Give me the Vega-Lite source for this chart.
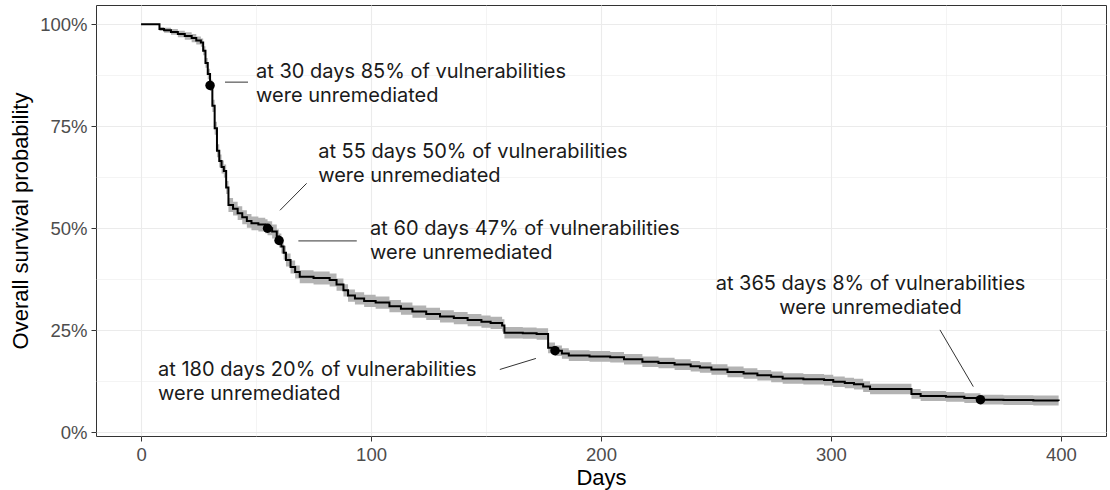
{
  "$schema": "https://vega.github.io/schema/vega-lite/v6.json",
  "width": 1010,
  "height": 431,
  "autosize": {"type": "none"},
  "padding": {"left": 96, "top": 5, "right": 4, "bottom": 54},
  "background": "white",
  "config": {
    "view": {"stroke": "#333333", "strokeWidth": 1},
    "axis": {
      "domain": false,
      "gridColor": "#ebebeb",
      "labelFont": "Liberation Sans",
      "labelFontSize": 18.5,
      "labelColor": "#4d4d4d",
      "titleFont": "Liberation Sans",
      "titleFontSize": 22,
      "titleFontWeight": "normal",
      "titleColor": "#000000",
      "tickSize": 5,
      "tickWidth": 1
    }
  },
  "datasets": {
    "km": [
      {"day": 0, "surv": 1.0, "lower": 1.0, "upper": 1.0},
      {"day": 8, "surv": 0.988, "lower": 0.983, "upper": 0.993},
      {"day": 10, "surv": 0.985, "lower": 0.979, "upper": 0.991},
      {"day": 13, "surv": 0.981, "lower": 0.974, "upper": 0.988},
      {"day": 16, "surv": 0.976, "lower": 0.968, "upper": 0.984},
      {"day": 19, "surv": 0.971, "lower": 0.962, "upper": 0.980},
      {"day": 22, "surv": 0.966, "lower": 0.956, "upper": 0.976},
      {"day": 24, "surv": 0.960, "lower": 0.950, "upper": 0.970},
      {"day": 26, "surv": 0.955, "lower": 0.945, "upper": 0.965},
      {"day": 27, "surv": 0.935, "lower": 0.924, "upper": 0.946},
      {"day": 28, "surv": 0.905, "lower": 0.893, "upper": 0.917},
      {"day": 29, "surv": 0.878, "lower": 0.865, "upper": 0.891},
      {"day": 30, "surv": 0.850, "lower": 0.836, "upper": 0.864},
      {"day": 31, "surv": 0.800, "lower": 0.785, "upper": 0.815},
      {"day": 32, "surv": 0.745, "lower": 0.729, "upper": 0.761},
      {"day": 33, "surv": 0.690, "lower": 0.674, "upper": 0.706},
      {"day": 34, "surv": 0.665, "lower": 0.649, "upper": 0.681},
      {"day": 35, "surv": 0.650, "lower": 0.634, "upper": 0.666},
      {"day": 36, "surv": 0.640, "lower": 0.624, "upper": 0.656},
      {"day": 37, "surv": 0.600, "lower": 0.584, "upper": 0.616},
      {"day": 38, "surv": 0.557, "lower": 0.540, "upper": 0.574},
      {"day": 40, "surv": 0.548, "lower": 0.531, "upper": 0.565},
      {"day": 42, "surv": 0.537, "lower": 0.520, "upper": 0.554},
      {"day": 44, "surv": 0.527, "lower": 0.510, "upper": 0.544},
      {"day": 46, "surv": 0.518, "lower": 0.501, "upper": 0.535},
      {"day": 48, "surv": 0.512, "lower": 0.495, "upper": 0.529},
      {"day": 51, "surv": 0.509, "lower": 0.492, "upper": 0.526},
      {"day": 54, "surv": 0.505, "lower": 0.488, "upper": 0.522},
      {"day": 55, "surv": 0.500, "lower": 0.483, "upper": 0.517},
      {"day": 57, "surv": 0.492, "lower": 0.475, "upper": 0.509},
      {"day": 59, "surv": 0.480, "lower": 0.463, "upper": 0.497},
      {"day": 60, "surv": 0.470, "lower": 0.453, "upper": 0.487},
      {"day": 61, "surv": 0.455, "lower": 0.438, "upper": 0.472},
      {"day": 62, "surv": 0.440, "lower": 0.423, "upper": 0.457},
      {"day": 63, "surv": 0.422, "lower": 0.406, "upper": 0.438},
      {"day": 65, "surv": 0.405, "lower": 0.389, "upper": 0.421},
      {"day": 67, "surv": 0.393, "lower": 0.377, "upper": 0.409},
      {"day": 69, "surv": 0.381, "lower": 0.365, "upper": 0.397},
      {"day": 75, "surv": 0.378, "lower": 0.362, "upper": 0.394},
      {"day": 82, "surv": 0.373, "lower": 0.357, "upper": 0.389},
      {"day": 85, "surv": 0.362, "lower": 0.347, "upper": 0.377},
      {"day": 88, "surv": 0.348, "lower": 0.333, "upper": 0.363},
      {"day": 90, "surv": 0.335, "lower": 0.320, "upper": 0.350},
      {"day": 93, "surv": 0.328, "lower": 0.313, "upper": 0.343},
      {"day": 97, "surv": 0.322, "lower": 0.307, "upper": 0.337},
      {"day": 102, "surv": 0.318, "lower": 0.303, "upper": 0.333},
      {"day": 108, "surv": 0.309, "lower": 0.294, "upper": 0.324},
      {"day": 113, "surv": 0.303, "lower": 0.288, "upper": 0.318},
      {"day": 118, "surv": 0.296, "lower": 0.281, "upper": 0.311},
      {"day": 124, "surv": 0.290, "lower": 0.275, "upper": 0.305},
      {"day": 130, "surv": 0.284, "lower": 0.269, "upper": 0.299},
      {"day": 136, "surv": 0.280, "lower": 0.265, "upper": 0.295},
      {"day": 142, "surv": 0.275, "lower": 0.260, "upper": 0.290},
      {"day": 148, "surv": 0.271, "lower": 0.256, "upper": 0.286},
      {"day": 152, "surv": 0.268, "lower": 0.253, "upper": 0.283},
      {"day": 157, "surv": 0.262, "lower": 0.247, "upper": 0.277},
      {"day": 158, "surv": 0.244, "lower": 0.230, "upper": 0.258},
      {"day": 166, "surv": 0.243, "lower": 0.229, "upper": 0.257},
      {"day": 172, "surv": 0.241, "lower": 0.227, "upper": 0.255},
      {"day": 177, "surv": 0.207, "lower": 0.194, "upper": 0.220},
      {"day": 180, "surv": 0.200, "lower": 0.187, "upper": 0.213},
      {"day": 183, "surv": 0.193, "lower": 0.180, "upper": 0.206},
      {"day": 186, "surv": 0.188, "lower": 0.175, "upper": 0.201},
      {"day": 195, "surv": 0.186, "lower": 0.173, "upper": 0.199},
      {"day": 204, "surv": 0.184, "lower": 0.171, "upper": 0.197},
      {"day": 210, "surv": 0.179, "lower": 0.166, "upper": 0.192},
      {"day": 218, "surv": 0.173, "lower": 0.160, "upper": 0.186},
      {"day": 225, "surv": 0.170, "lower": 0.157, "upper": 0.183},
      {"day": 232, "surv": 0.166, "lower": 0.153, "upper": 0.179},
      {"day": 239, "surv": 0.162, "lower": 0.149, "upper": 0.175},
      {"day": 243, "surv": 0.159, "lower": 0.146, "upper": 0.172},
      {"day": 248, "surv": 0.154, "lower": 0.141, "upper": 0.167},
      {"day": 255, "surv": 0.148, "lower": 0.135, "upper": 0.161},
      {"day": 262, "surv": 0.144, "lower": 0.131, "upper": 0.157},
      {"day": 268, "surv": 0.140, "lower": 0.127, "upper": 0.153},
      {"day": 274, "surv": 0.136, "lower": 0.123, "upper": 0.149},
      {"day": 279, "surv": 0.132, "lower": 0.119, "upper": 0.145},
      {"day": 288, "surv": 0.130, "lower": 0.117, "upper": 0.143},
      {"day": 297, "surv": 0.128, "lower": 0.115, "upper": 0.141},
      {"day": 301, "surv": 0.124, "lower": 0.111, "upper": 0.137},
      {"day": 306, "surv": 0.121, "lower": 0.108, "upper": 0.134},
      {"day": 310, "surv": 0.118, "lower": 0.105, "upper": 0.131},
      {"day": 314, "surv": 0.112, "lower": 0.099, "upper": 0.125},
      {"day": 317, "surv": 0.106, "lower": 0.093, "upper": 0.119},
      {"day": 335, "surv": 0.094, "lower": 0.082, "upper": 0.106},
      {"day": 339, "surv": 0.089, "lower": 0.077, "upper": 0.101},
      {"day": 350, "surv": 0.087, "lower": 0.075, "upper": 0.099},
      {"day": 358, "surv": 0.084, "lower": 0.072, "upper": 0.096},
      {"day": 365, "surv": 0.080, "lower": 0.068, "upper": 0.092},
      {"day": 375, "surv": 0.079, "lower": 0.067, "upper": 0.091},
      {"day": 388, "surv": 0.078, "lower": 0.066, "upper": 0.090},
      {"day": 399, "surv": 0.077, "lower": 0.065, "upper": 0.089}
    ],
    "marks": [
      {"day": 30, "surv": 0.85},
      {"day": 55, "surv": 0.50},
      {"day": 60, "surv": 0.47},
      {"day": 180, "surv": 0.20},
      {"day": 365, "surv": 0.08}
    ],
    "notes": [
      {"day": 50.0, "surv": 0.882, "side": "left", "label": "at 30 days 85% of vulnerabilities\nwere unremediated"},
      {"day": 77.0, "surv": 0.686, "side": "left", "label": "at 55 days 50% of vulnerabilities\nwere unremediated"},
      {"day": 99.6, "surv": 0.498, "side": "left", "label": "at 60 days 47% of vulnerabilities\nwere unremediated"},
      {"day": 7.4, "surv": 0.153, "side": "left", "label": "at 180 days 20% of vulnerabilities\nwere unremediated"},
      {"day": 317.2, "surv": 0.364, "side": "center", "label": "at 365 days 8% of vulnerabilities\nwere unremediated"}
    ],
    "leaders": [
      {"day": 36.5, "surv": 0.858, "day2": 46.5, "surv2": 0.858},
      {"day": 60.4, "surv": 0.544, "day2": 72.0, "surv2": 0.610},
      {"day": 68.4, "surv": 0.469, "day2": 93.8, "surv2": 0.469},
      {"day": 156.0, "surv": 0.154, "day2": 171.7, "surv2": 0.181},
      {"day": 347.4, "surv": 0.251, "day2": 361.9, "surv2": 0.112}
    ]
  },
  "layer": [
    {
      "data": {"name": "km"},
      "mark": {"type": "area", "interpolate": "step-after", "color": "#b3b3b3", "opacity": 1},
      "encoding": {
        "x": {
          "field": "day", "type": "quantitative",
          "scale": {"domain": [-19.6, 419.6], "nice": false, "zero": false},
          "axis": {
            "title": "Days",
            "titlePadding": 4,
            "values": [0, 50, 100, 150, 200, 250, 300, 350, 400],
            "labelExpr": "datum.value % 100 === 0 ? datum.label : ''",
            "labelPadding": 4,
            "tickColor": {"condition": {"test": "datum.value % 100 === 0", "value": "#333333"}, "value": "transparent"},
            "gridWidth": {"condition": {"test": "datum.value % 100 === 0", "value": 1.1}, "value": 0.55}
          }
        },
        "y": {
          "field": "upper", "type": "quantitative",
          "scale": {"domain": [-0.009, 1.047], "nice": false, "zero": false},
          "axis": {
            "title": "Overall survival probability",
            "titlePadding": 7,
            "values": [0, 0.125, 0.25, 0.375, 0.5, 0.625, 0.75, 0.875, 1],
            "labelExpr": "(datum.value * 8) % 2 === 0 ? format(datum.value, '.0%') : ''",
            "labelPadding": 4,
            "tickColor": {"condition": {"test": "(datum.value * 8) % 2 === 0", "value": "#333333"}, "value": "transparent"},
            "gridWidth": {"condition": {"test": "(datum.value * 8) % 2 === 0", "value": 1.1}, "value": 0.55}
          }
        },
        "y2": {"field": "lower"}
      }
    },
    {
      "data": {"name": "km"},
      "mark": {"type": "line", "interpolate": "step-after", "color": "#000000", "strokeWidth": 2},
      "encoding": {
        "x": {"field": "day", "type": "quantitative"},
        "y": {"field": "surv", "type": "quantitative"}
      }
    },
    {
      "data": {"name": "marks"},
      "mark": {"type": "point", "filled": true, "color": "#000000", "opacity": 1, "size": 90},
      "encoding": {
        "x": {"field": "day", "type": "quantitative"},
        "y": {"field": "surv", "type": "quantitative"}
      }
    },
    {
      "data": {"name": "leaders"},
      "mark": {"type": "rule", "color": "#333333", "strokeWidth": 1},
      "encoding": {
        "x": {"field": "day", "type": "quantitative"},
        "y": {"field": "surv", "type": "quantitative"},
        "x2": {"field": "day2"},
        "y2": {"field": "surv2"}
      }
    },
    {
      "data": {"name": "notes"},
      "transform": [{"filter": "datum.side === 'left'"}],
      "mark": {"type": "text", "align": "left", "baseline": "middle", "lineBreak": "\n", "lineHeight": 24, "font": "Inter", "fontSize": 20, "color": "#1a1a1a"},
      "encoding": {
        "x": {"field": "day", "type": "quantitative"},
        "y": {"field": "surv", "type": "quantitative"},
        "text": {"field": "label"}
      }
    },
    {
      "data": {"name": "notes"},
      "transform": [{"filter": "datum.side === 'center'"}],
      "mark": {"type": "text", "align": "center", "baseline": "middle", "lineBreak": "\n", "lineHeight": 24, "font": "Inter", "fontSize": 20, "color": "#1a1a1a"},
      "encoding": {
        "x": {"field": "day", "type": "quantitative"},
        "y": {"field": "surv", "type": "quantitative"},
        "text": {"field": "label"}
      }
    }
  ]
}
